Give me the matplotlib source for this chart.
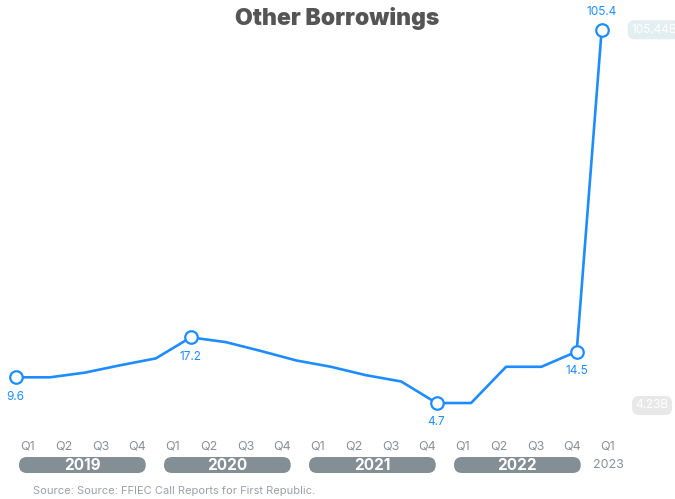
import numpy as np
import pandas as pd
import matplotlib
matplotlib.use('Agg')
import matplotlib.pyplot as plt
import matplotlib.dates as mdates
import matplotlib.transforms as mtransforms
from matplotlib.patches import FancyBboxPatch

plt.rcParams['font.family'] = ['Inter', 'DejaVu Sans']

# data (billions), quarter ends 2018Q4..2022Q4 plus the latest 2023 reading
dates = list(pd.period_range('2018Q4', '2022Q4', freq='Q').to_timestamp(how='end').normalize())
dates.append(pd.Timestamp('2023-03-06'))
values = [9.6, 9.6, 10.5, 11.9, 13.2, 17.2, 16.3, 14.6, 12.8, 11.6, 10.0, 8.8,
          4.7, 4.7, 11.6, 11.6, 14.5, 105.4]
labeled = [0, 5, 12, 16, 17]
range_labels = [105.44, 4.23]

quarters = ['Q1', 'Q2', 'Q3', 'Q4'] * 4 + ['Q1']
years = ['2019', '2020', '2021', '2022']
last_year = '2023'

BLUE = '#1E8CFF'
GREY = '#8a9096'

# compressed upper range so the spike fits
BREAK, K = 18.0, 0.661
def fwd(v):
    v = np.asarray(v, float)
    return np.where(v <= BREAK, v, BREAK + (v - BREAK) * K)
def inv(u):
    u = np.asarray(u, float)
    return np.where(u <= BREAK, u, BREAK + (u - BREAK) / K)

fig = plt.figure(figsize=(6.75, 4.99), dpi=100)
ax = fig.add_axes([0, 0, 1, 1])
ax.patch.set_alpha(0)
ax.set_yscale('function', functions=(fwd, inv))
ax.set_ylim(-13.58, 114.0)

d0 = mdates.date2num(dates[0])
d1 = mdates.date2num(dates[16])
ppd = (576.7 - 15.7) / (d1 - d0)
ax.set_xlim(d0 - 15.7 / ppd, d0 + (675 - 15.7) / ppd)

ax.plot(dates, values, color=BLUE, lw=1.9, zorder=3)
ax.plot(dates, values, ls='none', marker='o', markevery=labeled, ms=9,
        mfc='white', mec=BLUE, mew=1.6, zorder=4)

for i in labeled:
    dy = 13 if i == len(values) - 1 else -14
    ax.annotate(f'{values[i]:.1f}', (dates[i], values[i]), xytext=(0, dy),
                textcoords='offset points', ha='center', va='center',
                color=BLUE, fontsize=8.5)

blend = mtransforms.blended_transform_factory(ax.transAxes, ax.transData)
ax.text(0.935, range_labels[0], f'{range_labels[0]:.2f}B', transform=blend,
        ha='left', va='center', color='white', fontsize=8.5,
        bbox=dict(boxstyle='round,pad=0.3,rounding_size=0.6', fc='#e3eef0', ec='none'))
ax.text(0.966, range_labels[1], f'{range_labels[1]:.2f}B', transform=blend,
        ha='center', va='center', color='white', fontsize=8.5,
        bbox=dict(boxstyle='round,pad=0.3,rounding_size=0.6', fc='#e8e8e8', ec='none'))
ax.axis('off')

# quarter / year band, in pixel coordinates
ax2 = fig.add_axes([0, 0, 1, 1])
ax2.patch.set_alpha(0)
ax2.set_xlim(0, 675)
ax2.set_ylim(499, 0)
ax2.axis('off')
step = 36.25
for i, q in enumerate(quarters):
    ax2.text(28 + step * i, 447, q, ha='center', va='center', color=GREY, fontsize=9)
for j, yr in enumerate(years):
    left = 28 + step * 4 * j - 9
    width = step * 3 + 18
    ax2.add_patch(FancyBboxPatch((left, 457), width, 16,
                                 boxstyle='round,pad=0,rounding_size=8',
                                 fc='#838e95', ec='none'))
    ax2.text(left + width / 2, 465.5, yr, ha='center', va='center',
             color='white', fontsize=11, weight='bold')
ax2.text(28 + step * 16, 465.5, last_year, ha='center', va='center', color=GREY, fontsize=9)

fig.text(0.5, 1 - 18 / 499, 'Other Borrowings', ha='center', va='center',
         fontsize=16.5, weight='black', color='#555555')
fig.text(33 / 675, 1 - 491 / 499, 'Source: Source: FFIEC Call Reports for First Republic.',
         ha='left', va='center', fontsize=8, color='#9aa0a6')

fig.savefig('out.png', dpi=100)
